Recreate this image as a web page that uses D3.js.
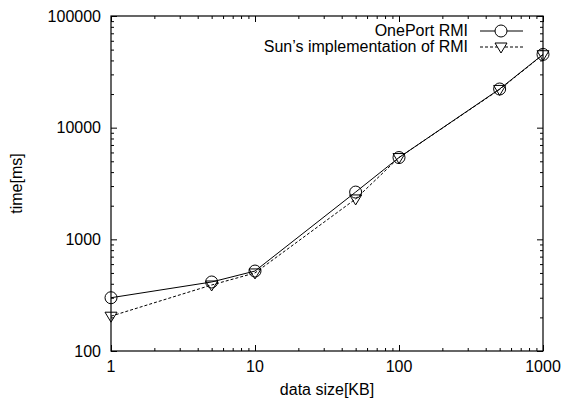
<!DOCTYPE html>
<html>
<head>
<meta charset="utf-8">
<script src="https://cdn.jsdelivr.net/npm/d3@7"></script>
<style>
  body { margin: 0; background: #fff; }
  text { font-family: "Liberation Sans", Arial, sans-serif; fill: #000; }
</style>
</head>
<body>
<div id="chart"></div>
<script>
'use strict';

var dataSizes = [1, 5, 10, 50, 100, 500, 1000];
var onePortTimes = [300, 415, 520, 2650, 5400, 22200, 45300];
var sunTimes = [205, 390, 500, 2300, 5400, 22000, 45000];
var xTickValues = [1, 10, 100, 1000];
var yTickValues = [100, 1000, 10000, 100000];
var seriesNames = ['OnePort RMI', 'Sun\u2019s implementation of RMI'];

function makeLogChart(containerSelector) {
  var margin = {top: 16, right: 21, bottom: 49, left: 111};
  var width = 564 - margin.left - margin.right;
  var height = 400 - margin.top - margin.bottom;
  var fontSize = '16px';

  var svg = d3.select(containerSelector)
              .append('svg')
              .attr('width', 564)
              .attr('height', 400);

  var g = svg.append('g')
             .attr('transform', 'translate(' + margin.left + ',' + margin.top + ')');

  var x = d3.scaleLog().domain([1, 1000]).range([0, width]);
  var y = d3.scaleLog().domain([100, 100000]).range([height, 0]);

  // minor ticks at 2..9 of each decade
  function minors(scale) {
    return scale.ticks().filter(function(v) {
      var e = Math.log10(v);
      return Math.abs(e - Math.round(e)) > 1e-9;
    });
  }

  function drawTicks(axisFn, scale, majors, transform) {
    var m = g.append('g')
     .attr('class', 'axis')
     .attr('transform', transform)
     .call(axisFn(scale).tickValues(minors(scale)).tickSize(3).tickFormat(''));
    m.select('.domain').remove();
    m.selectAll('line').attr('stroke', '#000');
    var a = g.append('g')
     .attr('class', 'axis')
     .attr('transform', transform)
     .call(axisFn(scale).tickValues(majors).tickSize(6).tickFormat(''));
    a.select('.domain').remove();
    a.selectAll('line').attr('stroke', '#000');
  }

  // inward ticks on all four sides
  drawTicks(d3.axisTop, x, xTickValues, 'translate(0,' + height + ')');
  drawTicks(d3.axisBottom, x, xTickValues, 'translate(0,0)');
  drawTicks(d3.axisRight, y, yTickValues, 'translate(0,0)');
  drawTicks(d3.axisLeft, y, yTickValues, 'translate(' + width + ',0)');

  var numFmt = d3.format('d');

  // tick labels outside the frame
  g.selectAll('.xlabel')
   .data(xTickValues)
   .enter().append('text')
   .attr('class', 'xlabel')
   .attr('x', function(d) { return x(d); })
   .attr('y', height + 21)
   .attr('text-anchor', 'middle')
   .style('font-size', fontSize)
   .text(numFmt);

  g.selectAll('.ylabel')
   .data(yTickValues)
   .enter().append('text')
   .attr('class', 'ylabel')
   .attr('x', -10)
   .attr('y', function(d) { return y(d); })
   .attr('dy', '0.36em')
   .attr('text-anchor', 'end')
   .style('font-size', fontSize)
   .text(numFmt);

  g.append('rect')
   .attr('width', width)
   .attr('height', height)
   .attr('fill', 'none')
   .attr('stroke', '#000')
   .attr('stroke-width', 1.2);

  var rows1 = dataSizes.map(function(d, i) { return {x: d, y: onePortTimes[i]}; });
  var rows2 = dataSizes.map(function(d, i) { return {x: d, y: sunTimes[i]}; });

  var line = d3.line()
               .x(function(d) { return x(d.x); })
               .y(function(d) { return y(d.y); });

  g.append('path')
   .datum(rows2)
   .attr('d', line)
   .attr('fill', 'none')
   .attr('stroke', '#000')
   .attr('stroke-width', 1)
   .attr('stroke-dasharray', '3,2');

  g.append('path')
   .datum(rows1)
   .attr('d', line)
   .attr('fill', 'none')
   .attr('stroke', '#000')
   .attr('stroke-width', 1);

  var tri = 'M-6,-4L6,-4L0,6Z';

  g.selectAll('.tri')
   .data(rows2)
   .enter().append('path')
   .attr('class', 'tri')
   .attr('transform', function(d) { return 'translate(' + x(d.x) + ',' + y(d.y) + ')'; })
   .attr('d', tri)
   .attr('fill', 'none')
   .attr('stroke', '#000');

  g.selectAll('.circ')
   .data(rows1)
   .enter().append('circle')
   .attr('class', 'circ')
   .attr('cx', function(d) { return x(d.x); })
   .attr('cy', function(d) { return y(d.y); })
   .attr('r', 6)
   .attr('fill', 'none')
   .attr('stroke', '#000');

  // legend
  var legend = svg.selectAll('.legend')
                  .data(seriesNames)
                  .enter().append('g')
                  .attr('class', 'legend')
                  .attr('transform', function(d, i) { return 'translate(0,' + (31 + i * 16) + ')'; });

  legend.append('text')
        .attr('x', 468)
        .attr('dy', '0.34em')
        .attr('text-anchor', 'end')
        .style('font-size', fontSize)
        .text(function(d) { return d; });

  legend.append('line')
        .attr('x1', 480)
        .attr('x2', 523)
        .attr('stroke', '#000')
        .attr('stroke-dasharray', function(d, i) { return i ? '3,2' : null; });

  legend.filter(function(d, i) { return i === 0; })
        .append('circle')
        .attr('cx', 501)
        .attr('r', 6)
        .attr('fill', '#fff')
        .attr('stroke', '#000');

  legend.filter(function(d, i) { return i === 1; })
        .append('path')
        .attr('transform', 'translate(501,0)')
        .attr('d', tri)
        .attr('fill', '#fff')
        .attr('stroke', '#000');

  svg.append('text')
     .attr('transform', 'translate(22,' + (margin.top + height / 2) + ') rotate(-90)')
     .attr('text-anchor', 'middle')
     .style('font-size', fontSize)
     .text('time[ms]');

  svg.append('text')
     .attr('x', margin.left + width / 2)
     .attr('y', 395)
     .attr('text-anchor', 'middle')
     .style('font-size', fontSize)
     .text('data size[KB]');
}

makeLogChart('#chart');
</script>
</body>
</html>
